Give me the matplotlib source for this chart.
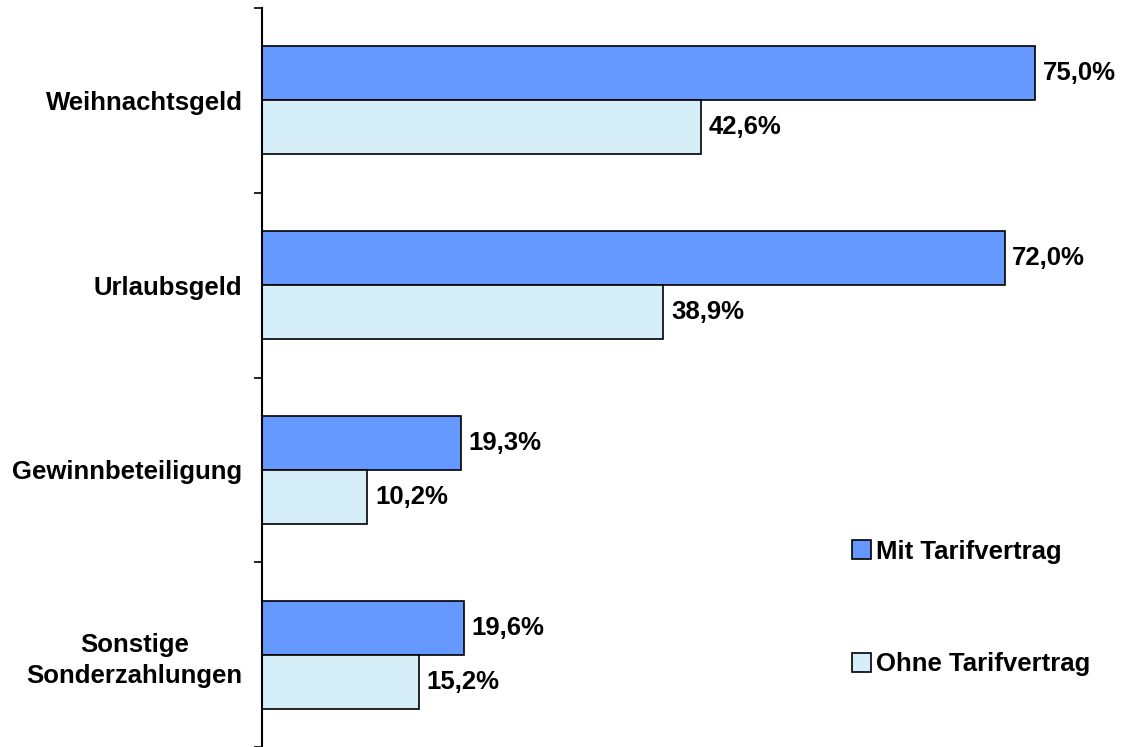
import matplotlib.pyplot as plt
import numpy as np

plt.rcParams['font.family'] = ['Liberation Sans', 'DejaVu Sans']

categories = ['Weihnachtsgeld', 'Urlaubsgeld', 'Gewinnbeteiligung', 'Sonstige\nSonderzahlungen']
mit = [75.0, 72.0, 19.3, 19.6]
ohne = [42.6, 38.9, 10.2, 15.2]
series_names = ['Mit Tarifvertrag', 'Ohne Tarifvertrag']

fs = 18.5

fig = plt.figure(figsize=(11.23, 7.47), dpi=100)
ax = fig.add_axes([262 / 1123, 0.0, 825 / 1123, 739 / 747])

y = np.arange(len(categories))
h = 0.292
b1 = ax.barh(y - h / 2, mit, height=h, color='#6699FF', edgecolor='black', linewidth=1.2,
             label=series_names[0])
b2 = ax.barh(y + h / 2, ohne, height=h, color='#D6EEF8', edgecolor='black', linewidth=1.2,
             label=series_names[1])

for bars, vals in [(b1, mit), (b2, ohne)]:
    for bar, v in zip(bars, vals):
        ax.text(bar.get_width() + 0.75, bar.get_y() + bar.get_height() / 2,
                ('%.1f%%' % v).replace('.', ','), va='center', ha='left',
                fontsize=fs, fontweight='bold')

ax.set_xlim(0, 80)
ax.set_ylim(len(categories) - 0.5, -0.5)
ax.set_yticks(np.arange(-0.5, len(categories), 1.0))
ax.set_yticklabels([])
ax.set_yticks(y, minor=True)
ax.set_yticklabels(categories, minor=True, fontsize=fs, fontweight='bold',
                   multialignment='center', linespacing=1.35)
ax.tick_params(axis='y', which='minor', length=0, pad=14)
ax.tick_params(axis='y', which='major', length=6, width=1.2, direction='out')
ax.set_xticks([])
for s in ['top', 'right', 'bottom']:
    ax.spines[s].set_visible(False)
ax.spines['left'].set_linewidth(1.5)

leg = fig.legend(loc='center left', bbox_to_anchor=(829 / 1123, 1 - 608 / 747),
                 frameon=False, prop={'size': fs, 'weight': 'bold'},
                 labelspacing=3.45, handlelength=0.73, handleheight=0.73,
                 handletextpad=0.2)

plt.savefig('out.png', dpi=100)
